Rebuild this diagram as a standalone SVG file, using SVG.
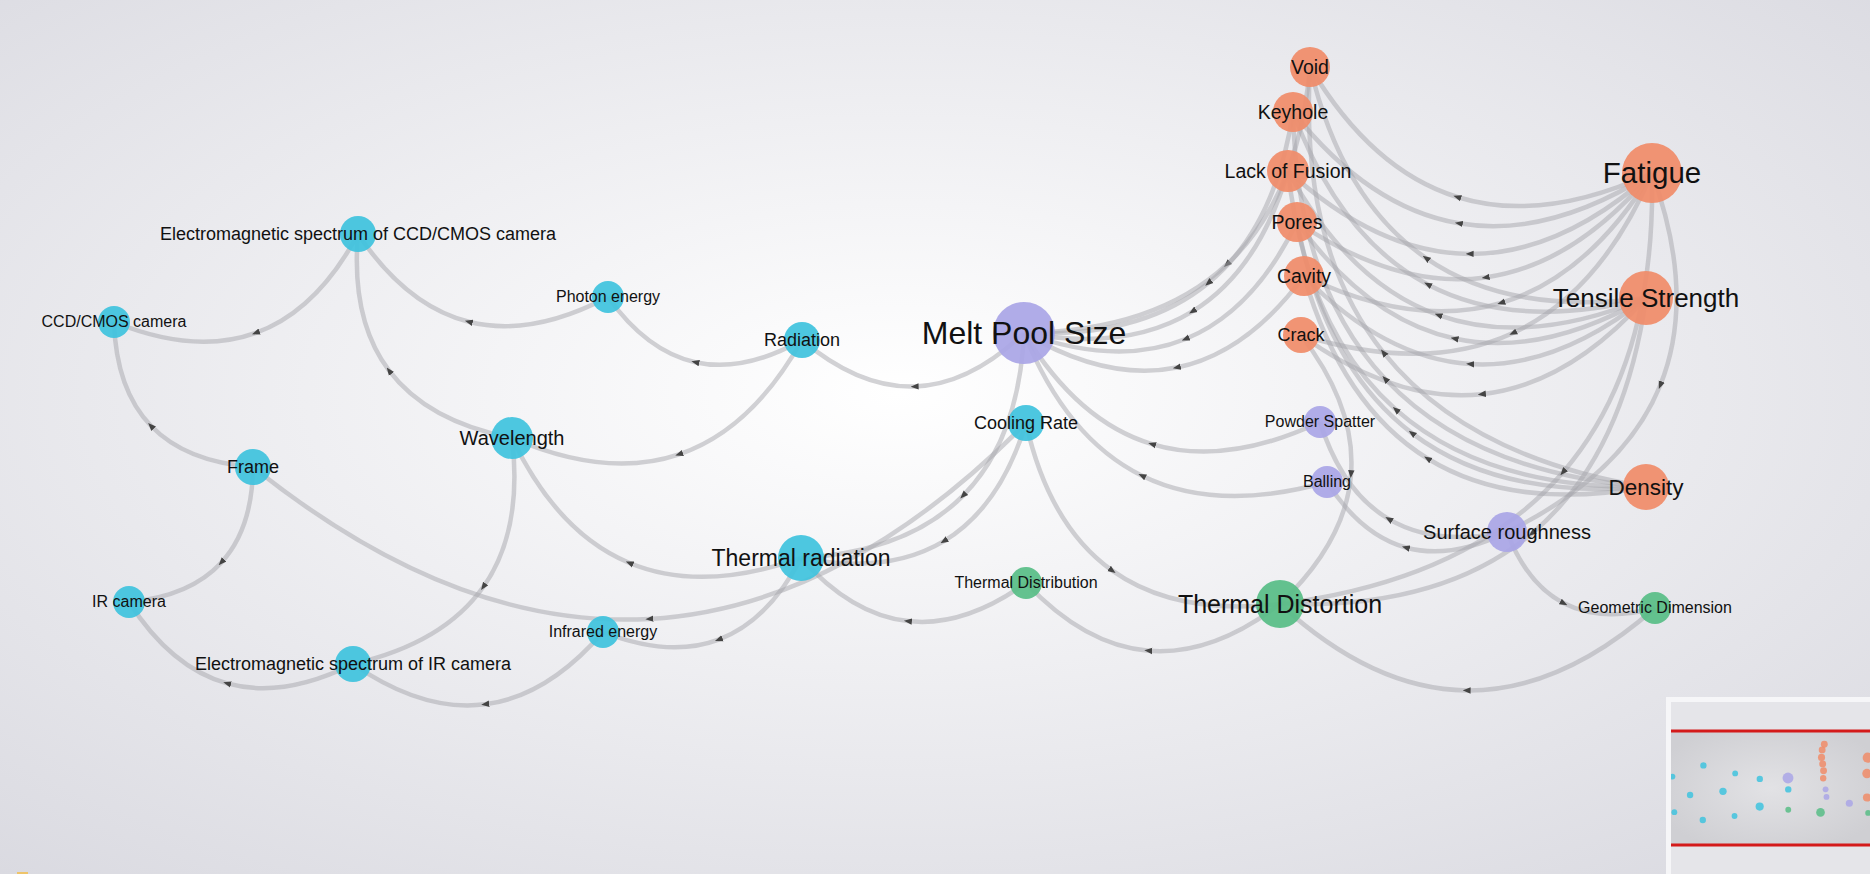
<svg xmlns="http://www.w3.org/2000/svg" width="1870" height="874" viewBox="0 0 1870 874">
<style>
.e{fill:none;stroke:#a6a6ac;stroke-opacity:0.5;stroke-width:4.5;marker-mid:url(#arr)}
.cy{fill:#3fc3de;fill-opacity:0.93}
.pu{fill:#aaa6e6;fill-opacity:0.93}
.gr{fill:#58bd86;fill-opacity:0.93}
.or{fill:#f08c69;fill-opacity:0.93}
text{font-family:"Liberation Sans",Arial,sans-serif;fill:#111;text-anchor:middle}
.mm circle{fill-opacity:0.85}
</style>
<defs>
<radialGradient id="bg" cx="0.48" cy="0.45" r="0.75">
<stop offset="0" stop-color="#ffffff"/>
<stop offset="1" stop-color="#d9d9e0"/>
</radialGradient>
<radialGradient id="mmbg" cx="0.5" cy="0.5" r="0.6">
<stop offset="0" stop-color="#e2e2e5"/>
<stop offset="1" stop-color="#cfcfd3"/>
</radialGradient>
<marker id="arr" viewBox="0 0 10 10" refX="5" refY="5" markerWidth="8" markerHeight="8" markerUnits="userSpaceOnUse" orient="auto">
<path d="M0,1 L10,5 L0,9 Z" fill="#444"/>
</marker>
<clipPath id="mmclip"><rect x="1671" y="702" width="199" height="172"/></clipPath>
</defs>
<rect width="1870" height="874" fill="url(#bg)"/>

<g id="edges">
<path class="e" d="M358,234 Q316.8,310.9 255.8,332.9 Q194.8,354.9 114,322"/>
<path class="e" d="M608,297 Q531.3,337.5 468.8,321.8 Q406.3,306 358,234"/>
<path class="e" d="M512,438 Q427.6,421.7 389.1,370.7 Q350.6,319.7 358,234"/>
<path class="e" d="M253,467 Q185.6,462 150.9,425.8 Q116.1,389.5 114,322"/>
<path class="e" d="M802,340 Q743.8,372.9 695.3,362.2 Q646.8,351.4 608,297"/>
<path class="e" d="M802,340 Q751.6,429.8 679.1,454.3 Q606.6,478.8 512,438"/>
<path class="e" d="M1024,333 Q970.1,384.7 914.6,386.5 Q859.1,388.2 802,340"/>
<path class="e" d="M253,467 Q252.4,528.7 221.4,562.4 Q190.4,596.2 129,602"/>
<path class="e" d="M1026,423 Q842.7,607.9 649.4,618.9 Q456.2,629.9 253,467"/>
<path class="e" d="M512,438 Q523.1,530.3 483.4,586.8 Q443.6,643.3 353,664"/>
<path class="e" d="M353,664 Q283.1,698.9 227.1,683.4 Q171.1,667.9 129,602"/>
<path class="e" d="M603,632 Q547.7,696.3 485.2,704.3 Q422.7,712.3 353,664"/>
<path class="e" d="M801,558 Q768.2,621.1 718.7,639.6 Q669.2,658.1 603,632"/>
<path class="e" d="M801,558 Q701.8,593 629.5,563 Q557.3,533 512,438"/>
<path class="e" d="M1026,583 Q964.1,627.4 907.9,621.1 Q851.6,614.9 801,558"/>
<path class="e" d="M1026,423 Q1000.1,507.4 943.9,541.1 Q887.6,574.9 801,558"/>
<path class="e" d="M1024,333 Q1018.9,439.4 963.1,495.7 Q907.4,551.9 801,558"/>
<path class="e" d="M1026,423 Q1048.8,525.4 1112.3,570.7 Q1175.8,615.9 1280,604"/>
<path class="e" d="M1280,604 Q1211.8,655.9 1148.3,650.7 Q1084.8,645.4 1026,583"/>
<path class="e" d="M1655,608 Q1560.4,691.4 1466.6,690.4 Q1372.9,689.4 1280,604"/>
<path class="e" d="M1507,532 Q1526.9,584.3 1563.9,603.3 Q1600.9,622.3 1655,608"/>
<path class="e" d="M1320,422 Q1226,466.4 1152,444.1 Q1078,421.9 1024,333"/>
<path class="e" d="M1327,482 Q1217.7,512.9 1142,475.7 Q1066.2,438.4 1024,333"/>
<path class="e" d="M1310,67 Q1298.4,197.9 1226.9,264.4 Q1155.4,330.9 1024,333"/>
<path class="e" d="M1293,112 Q1275.5,227.8 1208.3,283.1 Q1141,338.3 1024,333"/>
<path class="e" d="M1288,171 Q1258.5,270.9 1192.5,311.4 Q1126.5,351.9 1024,333"/>
<path class="e" d="M1297,222 Q1253.7,311.2 1185.5,339 Q1117.2,366.7 1024,333"/>
<path class="e" d="M1304,276 Q1246.8,353.3 1176.8,367.5 Q1106.8,381.8 1024,333"/>
<path class="e" d="M1652,173 Q1542.7,223.5 1457.2,197 Q1371.7,170.5 1310,67"/>
<path class="e" d="M1652,173 Q1548.5,238.5 1458.8,223.3 Q1369,208 1293,112"/>
<path class="e" d="M1652,173 Q1560.6,254.4 1469.6,253.9 Q1378.6,253.4 1288,171"/>
<path class="e" d="M1652,173 Q1574.3,265.1 1485.6,277.4 Q1396.8,289.6 1297,222"/>
<path class="e" d="M1652,173 Q1588.2,277.1 1501.2,302.8 Q1414.2,328.6 1304,276"/>
<path class="e" d="M1652,173 Q1600.7,292.5 1513,333 Q1425.2,373.5 1301,335"/>
<path class="e" d="M1646,298 Q1510,315.9 1426,258.1 Q1342,200.4 1310,67"/>
<path class="e" d="M1646,298 Q1515.9,330.9 1427.7,284.4 Q1339.4,237.9 1293,112"/>
<path class="e" d="M1646,298 Q1527.9,346.8 1438.4,315.1 Q1348.9,283.3 1288,171"/>
<path class="e" d="M1646,298 Q1541.7,357.5 1454.5,338.5 Q1367.2,319.5 1297,222"/>
<path class="e" d="M1646,298 Q1555.6,369.5 1470.1,364 Q1384.6,358.5 1304,276"/>
<path class="e" d="M1646,298 Q1568.1,384.9 1481.9,394.2 Q1395.6,403.4 1301,335"/>
<path class="e" d="M1646,487 Q1467.5,457.6 1383.5,352.6 Q1299.5,247.6 1310,67"/>
<path class="e" d="M1646,487 Q1473.4,472.7 1385.2,379 Q1296.9,285.2 1293,112"/>
<path class="e" d="M1646,487 Q1485.4,488.6 1395.9,409.6 Q1306.4,330.6 1288,171"/>
<path class="e" d="M1646,487 Q1499.1,499.3 1411.9,433.1 Q1324.6,366.8 1297,222"/>
<path class="e" d="M1646,487 Q1513,511.2 1427.5,458.5 Q1342,405.7 1304,276"/>
<path class="e" d="M1652,173 Q1696.5,295.4 1660.3,385.2 Q1624,474.9 1507,532"/>
<path class="e" d="M1652,173 Q1656,364.5 1563,472.2 Q1470,580 1280,604"/>
<path class="e" d="M1646,298 Q1623.4,456.9 1531.9,533.4 Q1440.4,609.9 1280,604"/>
<path class="e" d="M1301,335 Q1356.3,407 1351,474.2 Q1345.8,541.5 1280,604"/>
<path class="e" d="M1507,532 Q1435.5,546.6 1388.8,519.1 Q1342,491.6 1320,422"/>
<path class="e" d="M1507,532 Q1450.8,560 1405.8,547.5 Q1360.8,535 1327,482"/>
</g>

<g id="nodes">
<g id="n-emccd"><circle class="cy" cx="358" cy="234" r="18"/><text x="358" y="234" dy="0.34em" font-size="18">Electromagnetic spectrum of CCD/CMOS camera</text></g>
<g id="n-ccd"><circle class="cy" cx="114" cy="322" r="16"/><text x="114" y="322" dy="0.34em" font-size="16">CCD/CMOS camera</text></g>
<g id="n-photon"><circle class="cy" cx="608" cy="297" r="16"/><text x="608" y="297" dy="0.34em" font-size="16">Photon energy</text></g>
<g id="n-radiation"><circle class="cy" cx="802" cy="340" r="18"/><text x="802" y="340" dy="0.34em" font-size="18">Radiation</text></g>
<g id="n-wavelength"><circle class="cy" cx="512" cy="438" r="21"/><text x="512" y="438" dy="0.34em" font-size="20">Wavelength</text></g>
<g id="n-frame"><circle class="cy" cx="253" cy="467" r="18"/><text x="253" y="467" dy="0.34em" font-size="18">Frame</text></g>
<g id="n-ircam"><circle class="cy" cx="129" cy="602" r="16"/><text x="129" y="602" dy="0.34em" font-size="16">IR camera</text></g>
<g id="n-emir"><circle class="cy" cx="353" cy="664" r="18"/><text x="353" y="664" dy="0.34em" font-size="18">Electromagnetic spectrum of IR camera</text></g>
<g id="n-infrared"><circle class="cy" cx="603" cy="632" r="16"/><text x="603" y="632" dy="0.34em" font-size="16">Infrared energy</text></g>
<g id="n-thermalrad"><circle class="cy" cx="801" cy="558" r="23"/><text x="801" y="558" dy="0.34em" font-size="23">Thermal radiation</text></g>
<g id="n-cooling"><circle class="cy" cx="1026" cy="423" r="18"/><text x="1026" y="423" dy="0.34em" font-size="18">Cooling Rate</text></g>
<g id="n-mps"><circle class="pu" cx="1024" cy="333" r="31"/><text x="1024" y="333" dy="0.34em" font-size="32">Melt Pool Size</text></g>
<g id="n-spatter"><circle class="pu" cx="1320" cy="422" r="16"/><text x="1320" y="422" dy="0.34em" font-size="16">Powder Spatter</text></g>
<g id="n-balling"><circle class="pu" cx="1327" cy="482" r="16"/><text x="1327" y="482" dy="0.34em" font-size="16">Balling</text></g>
<g id="n-roughness"><circle class="pu" cx="1507" cy="532" r="20"/><text x="1507" y="532" dy="0.34em" font-size="20">Surface roughness</text></g>
<g id="n-tdist"><circle class="gr" cx="1026" cy="583" r="16"/><text x="1026" y="583" dy="0.34em" font-size="16">Thermal Distribution</text></g>
<g id="n-tdistortion"><circle class="gr" cx="1280" cy="604" r="24"/><text x="1280" y="604" dy="0.34em" font-size="25">Thermal Distortion</text></g>
<g id="n-geodim"><circle class="gr" cx="1655" cy="608" r="16"/><text x="1655" y="608" dy="0.34em" font-size="16">Geometric Dimension</text></g>
<g id="n-void"><circle class="or" cx="1310" cy="67" r="20"/><text x="1310" y="67" dy="0.34em" font-size="19.5">Void</text></g>
<g id="n-keyhole"><circle class="or" cx="1293" cy="112" r="20"/><text x="1293" y="112" dy="0.34em" font-size="19.5">Keyhole</text></g>
<g id="n-lof"><circle class="or" cx="1288" cy="171" r="21"/><text x="1288" y="171" dy="0.34em" font-size="19.5">Lack of Fusion</text></g>
<g id="n-pores"><circle class="or" cx="1297" cy="222" r="20"/><text x="1297" y="222" dy="0.34em" font-size="19.5">Pores</text></g>
<g id="n-cavity"><circle class="or" cx="1304" cy="276" r="20"/><text x="1304" y="276" dy="0.34em" font-size="19.5">Cavity</text></g>
<g id="n-crack"><circle class="or" cx="1301" cy="335" r="18"/><text x="1301" y="335" dy="0.34em" font-size="18">Crack</text></g>
<g id="n-fatigue"><circle class="or" cx="1652" cy="173" r="30"/><text x="1652" y="173" dy="0.34em" font-size="29.5">Fatigue</text></g>
<g id="n-tensile"><circle class="or" cx="1646" cy="298" r="27"/><text x="1646" y="298" dy="0.34em" font-size="26">Tensile Strength</text></g>
<g id="n-density"><circle class="or" cx="1646" cy="487" r="23"/><text x="1646" y="487" dy="0.34em" font-size="22.5">Density</text></g>
</g>

<g id="minimap">
<rect x="1666" y="697" width="204" height="177" fill="#f6f6f8"/>
<rect x="1671" y="702" width="199" height="172" fill="#e5e5e9"/>
<rect x="1671" y="731" width="199" height="114" fill="url(#mmbg)"/>
<line x1="1671" y1="731" x2="1870" y2="731" stroke="#d41a1a" stroke-width="3"/>
<line x1="1671" y1="845" x2="1870" y2="845" stroke="#d41a1a" stroke-width="3"/>
<g clip-path="url(#mmclip)">
<g class="mm" transform="translate(1657.95,735.71) scale(0.127)">
<circle class="cy" cx="358" cy="234" r="25"/>
<circle class="cy" cx="114" cy="322" r="23"/>
<circle class="cy" cx="608" cy="297" r="23"/>
<circle class="cy" cx="802" cy="340" r="25"/>
<circle class="cy" cx="512" cy="438" r="29"/>
<circle class="cy" cx="253" cy="467" r="25"/>
<circle class="cy" cx="129" cy="602" r="23"/>
<circle class="cy" cx="353" cy="664" r="25"/>
<circle class="cy" cx="603" cy="632" r="23"/>
<circle class="cy" cx="801" cy="558" r="32"/>
<circle class="cy" cx="1026" cy="423" r="25"/>
<circle class="pu" cx="1024" cy="333" r="43"/>
<circle class="pu" cx="1320" cy="422" r="23"/>
<circle class="pu" cx="1327" cy="482" r="23"/>
<circle class="pu" cx="1507" cy="532" r="28"/>
<circle class="gr" cx="1026" cy="583" r="23"/>
<circle class="gr" cx="1280" cy="604" r="34"/>
<circle class="gr" cx="1655" cy="608" r="23"/>
<circle class="or" cx="1310" cy="67" r="27"/>
<circle class="or" cx="1293" cy="112" r="27"/>
<circle class="or" cx="1288" cy="171" r="28"/>
<circle class="or" cx="1297" cy="222" r="27"/>
<circle class="or" cx="1304" cy="276" r="27"/>
<circle class="or" cx="1301" cy="335" r="25"/>
<circle class="or" cx="1652" cy="173" r="40"/>
<circle class="or" cx="1646" cy="298" r="37"/>
<circle class="or" cx="1646" cy="487" r="32"/>
</g>
</g>
</g>
<rect x="17" y="872" width="11" height="2" fill="#eec46a"/>
</svg>
